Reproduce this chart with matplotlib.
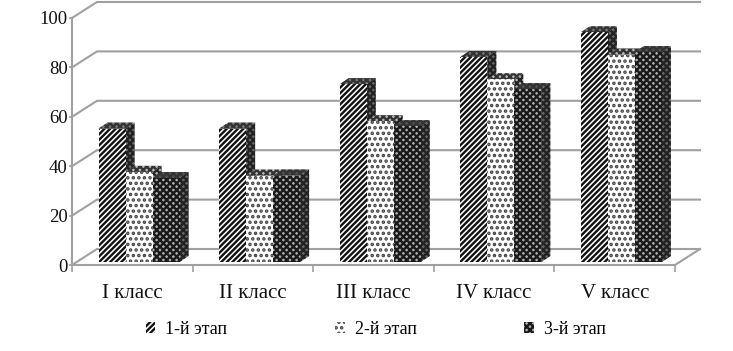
import matplotlib
matplotlib.use('Agg')
import matplotlib.pyplot as plt
from matplotlib.patches import Polygon

plt.rcParams['font.family'] = ['Liberation Serif', 'DejaVu Serif']
plt.rcParams['hatch.linewidth'] = 1.7

classes = ['I класс', 'II класс', 'III класс', 'IV класс', 'V класс']
stage1 = [54, 54, 72, 83, 93]
stage2 = [36.5, 35, 57, 74, 84]
stage3 = [34, 35, 55, 70, 85]
series_names = ['1-й этап', '2-й этап', '3-й этап']
y_ticks = [0, 20, 40, 60, 80, 100]

# px per data unit, used for the fake 3d offsets
PX_X = 120.6
PX_Y = 2.47
wall_dx, wall_dy = 25 / PX_X, 16 / PX_Y
bar_dx, bar_dy = 9 / PX_X, 6 / PX_Y
base = 3 / PX_Y
bar_w = 27 / PX_X
start = 26.5 / PX_X
GREY = '#a0a0a0'

styles = [
    dict(hatch='//////', fc='white', ec='#111111', side='#6a6a6a', top='#777777'),
    dict(hatch='...', fc='white', ec='#444444', side='#b0b0b0', top='#b8b8b8'),
    dict(hatch='xxxxx', fc='#b0b0b0', ec='#1a1a1a', side='#6a6a6a', top='#555555'),
]

fig = plt.figure(figsize=(7.33, 3.51), dpi=100)
ax = fig.add_axes([72 / 733, 86 / 351, 603 / 733, 247 / 351])
ax.set_xlim(0, 5)
ax.set_ylim(0, 100)
ax.patch.set_visible(False)

# back wall and floor
for y in y_ticks:
    ax.plot([0, wall_dx, 5 + wall_dx], [y, y + wall_dy, y + wall_dy],
            color=GREY, lw=1.5, clip_on=False, zorder=1)
ax.plot([5, 5 + wall_dx], [0, wall_dy], color=GREY, lw=1.5, clip_on=False, zorder=1)

for i, values in enumerate([stage1, stage2, stage3]):
    st = styles[i]
    xs = [k + start + i * bar_w for k in range(len(classes))]
    bars = ax.bar(xs, values, bar_w, bottom=base, align='edge', color=st['fc'],
                  edgecolor=st['ec'], hatch=st['hatch'], linewidth=0,
                  zorder=3 + 2 * i, label=series_names[i])
    for x, v in zip(xs, values):
        right = x + bar_w
        top = base + v
        side = Polygon([(right, base), (right + bar_dx, base + bar_dy),
                        (right + bar_dx, top + bar_dy), (right, top)],
                       facecolor=st['side'], edgecolor='#222222', hatch='xxxxx',
                       linewidth=0, clip_on=False, zorder=2 + 2 * i)
        lid = Polygon([(x, top), (x + bar_dx, top + bar_dy),
                       (right + bar_dx, top + bar_dy), (right, top)],
                      facecolor=st['top'], edgecolor='#333333', hatch='xxxxx',
                      linewidth=0, clip_on=False, zorder=2 + 2 * i)
        ax.add_patch(side)
        ax.add_patch(lid)

ax.set_yticks(y_ticks)
ax.set_xticks(range(6))
ax.set_xticklabels([])
ax.set_xticks([k + 0.5 for k in range(5)], minor=True)
ax.set_xticklabels(classes, minor=True, fontsize=15, color='#111111')
ax.tick_params(axis='x', which='minor', length=0, pad=13.5)
ax.tick_params(axis='x', which='major', length=5, width=1.2, color=GREY)
ax.tick_params(axis='y', length=2, width=1.2, color=GREY, labelsize=13.5, pad=1,
               labelcolor='#111111')
for s in ['top', 'right']:
    ax.spines[s].set_visible(False)
for s in ['left', 'bottom']:
    ax.spines[s].set_color(GREY)
    ax.spines[s].set_linewidth(1.5)

leg = ax.legend(loc='upper left', bbox_to_anchor=(0.122, -0.225), ncol=3, frameon=False,
                fontsize=13, handlelength=0.55, handleheight=0.55, handletextpad=0.55,
                columnspacing=5.95, borderaxespad=0, borderpad=0)

fig.savefig('out.png', dpi=100)
